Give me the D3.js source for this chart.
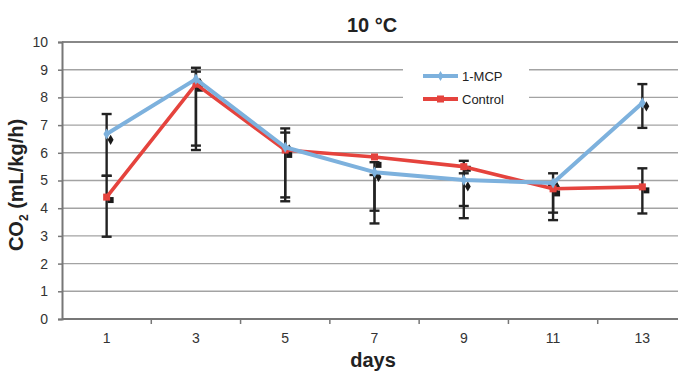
<!DOCTYPE html>
<html>
<head>
<meta charset="utf-8">
<script src="https://cdn.jsdelivr.net/npm/d3@7"></script>
<style>
  body { margin: 0; background: #fff; }
  svg { display: block; font-family: "Liberation Sans", Arial, sans-serif; }
</style>
</head>
<body>
<div id="chart"></div>
<script>
const days = ['1', '3', '5', '7', '9', '11', '13'];
const yTicks = [0, 1, 2, 3, 4, 5, 6, 7, 8, 9, 10];

// line values
const mcp = [6.68, 8.66, 6.2, 5.3, 5.02, 4.91, 7.8];
const control = [4.4, 8.48, 6.1, 5.85, 5.5, 4.7, 4.77];

// black marker values (with error bars)
const mcpMark = [6.54, 8.6, 6.2, 5.2, 4.86, 4.84, 7.75];
const controlMark = [4.33, 8.35, 5.96, 5.6, 5.46, 4.57, 4.68];
const mcpLow = [5.17, 6.26, 4.39, 3.91, 4.08, 3.84, 6.9];
const mcpHigh = [7.4, 9.07, 6.88, 5.2, 5.26, 4.84, 8.48];
const controlLow = [2.97, 6.1, 4.25, 3.45, 3.64, 3.57, 3.81];
const controlHigh = [5.17, 8.93, 6.73, 5.66, 5.71, 5.26, 5.44];

const width = 678;
const height = 371;
const blue = '#7db1dd';
const red = '#e5433d';

const svg = d3.select('#chart')
  .append('svg')
  .attr('width', width)
  .attr('height', height);

const x = d3.scaleBand()
  .domain(days)
  .range([62, 687]);

const y = d3.scaleLinear()
  .domain([0, 10])
  .range([319, 42]);

const cx = d => x(d) + x.bandwidth() / 2;

// gridlines
svg.append('g')
  .selectAll('line')
  .data(yTicks.slice(1))
  .enter()
  .append('line')
  .attr('x1', 62)
  .attr('x2', width)
  .attr('y1', d => y(d))
  .attr('y2', d => y(d))
  .attr('stroke', d => d === 10 ? '#888' : '#a3a3a3')
  .attr('stroke-width', d => d === 10 ? 2.2 : 1.4);

// legend background covers gridlines
svg.append('rect')
  .attr('x', 403)
  .attr('y', 60)
  .attr('width', 126)
  .attr('height', 50)
  .attr('fill', '#fff');

// y axis
const yAxis = d3.axisLeft(y).tickValues(yTicks).tickSize(4).tickPadding(10);
const gy = svg.append('g')
  .attr('transform', 'translate(62,0)')
  .call(yAxis);
gy.select('.domain').attr('stroke', '#777').attr('stroke-width', 2);
gy.selectAll('.tick line').attr('stroke', '#777').attr('stroke-width', 1.5);
gy.selectAll('.tick text')
  .attr('font-size', 14)
  .attr('fill', '#333')
  .attr('font-family', '"Liberation Sans", Arial, sans-serif');

// x axis: ticks on band boundaries
const bounds = days.map(d => x(d)).slice(1);
const gx = svg.append('g');
gx.append('line')
  .attr('x1', 62).attr('x2', width)
  .attr('y1', y(0)).attr('y2', y(0))
  .attr('stroke', '#777').attr('stroke-width', 2.2);
gx.selectAll('.tk')
  .data(bounds)
  .enter()
  .append('line')
  .attr('x1', d => d).attr('x2', d => d)
  .attr('y1', y(0)).attr('y2', y(0) + 5)
  .attr('stroke', '#777').attr('stroke-width', 1.5);
gx.selectAll('text')
  .data(days)
  .enter()
  .append('text')
  .attr('x', d => cx(d))
  .attr('y', 343)
  .attr('text-anchor', 'middle')
  .attr('font-size', 14)
  .attr('fill', '#333')
  .text(d => d);

// black markers
svg.selectAll('.mdiamond')
  .data(mcpMark)
  .enter()
  .append('path')
  .attr('d', d3.symbol(d3.symbolDiamond, 30))
  .attr('transform', (d, i) => `translate(${cx(days[i]) + 4},${y(d) + 2})`)
  .attr('fill', '#1a1a1a');

svg.selectAll('.msquare')
  .data(controlMark)
  .enter()
  .append('rect')
  .attr('x', (d, i) => cx(days[i]) + 1)
  .attr('y', d => y(d) - 2)
  .attr('width', 6)
  .attr('height', 6)
  .attr('fill', '#1a1a1a');

// error bars
function errorBars(low, high) {
  const g = svg.append('g').attr('stroke', '#222').attr('stroke-width', 2.4);
  g.selectAll('.v')
    .data(days)
    .enter()
    .append('line')
    .attr('x1', d => cx(d)).attr('x2', d => cx(d))
    .attr('y1', (d, i) => y(low[i])).attr('y2', (d, i) => y(high[i]));
  [low, high].forEach(arr => {
    g.selectAll(null)
      .data(days)
      .enter()
      .append('line')
      .attr('x1', d => cx(d) - 5).attr('x2', d => cx(d) + 5)
      .attr('y1', (d, i) => y(arr[i])).attr('y2', (d, i) => y(arr[i]));
  });
}
errorBars(controlLow, controlHigh);
errorBars(mcpLow, mcpHigh);

// series lines
const line = d3.line()
  .x((d, i) => cx(days[i]))
  .y(d => y(d));

svg.append('path')
  .datum(control)
  .attr('d', line)
  .attr('fill', 'none')
  .attr('stroke', red)
  .attr('stroke-width', 3.6)
  .attr('stroke-linejoin', 'round');

svg.selectAll('.csq')
  .data(control)
  .enter()
  .append('rect')
  .attr('x', (d, i) => cx(days[i]) - 3.5)
  .attr('y', d => y(d) - 3.5)
  .attr('width', 7)
  .attr('height', 7)
  .attr('fill', red);

svg.append('path')
  .datum(mcp)
  .attr('d', line)
  .attr('fill', 'none')
  .attr('stroke', blue)
  .attr('stroke-width', 4)
  .attr('stroke-linejoin', 'round');

svg.selectAll('.mdi')
  .data(mcp)
  .enter()
  .append('path')
  .attr('d', d3.symbol(d3.symbolDiamond, 36))
  .attr('transform', (d, i) => `translate(${cx(days[i])},${y(d)})`)
  .attr('fill', blue);

// legend
const legend = [
  { name: '1-MCP', color: blue, y: 76, shape: 'diamond' },
  { name: 'Control', color: red, y: 99, shape: 'square' }
];
const lg = svg.append('g');
legend.forEach(item => {
  lg.append('line')
    .attr('x1', 423).attr('x2', 458)
    .attr('y1', item.y).attr('y2', item.y)
    .attr('stroke', item.color)
    .attr('stroke-width', 4);
  if (item.shape === 'square') {
    lg.append('rect')
      .attr('x', 437).attr('y', item.y - 3.5)
      .attr('width', 7).attr('height', 7)
      .attr('fill', item.color);
  } else {
    lg.append('path')
      .attr('d', d3.symbol(d3.symbolDiamond, 30))
      .attr('transform', `translate(440.5,${item.y})`)
      .attr('fill', item.color);
  }
  lg.append('text')
    .attr('x', 462)
    .attr('y', item.y + 5)
    .attr('font-size', 13)
    .attr('fill', '#222')
    .text(item.name);
});

// titles
svg.append('text')
  .attr('x', 372)
  .attr('y', 32)
  .attr('text-anchor', 'middle')
  .attr('font-size', 20)
  .attr('font-weight', 'bold')
  .attr('fill', '#222')
  .text('10 °C');

svg.append('text')
  .attr('x', 373)
  .attr('y', 367)
  .attr('text-anchor', 'middle')
  .attr('font-size', 20)
  .attr('font-weight', 'bold')
  .attr('fill', '#222')
  .text('days');

const yt = svg.append('text')
  .attr('transform', 'translate(23,185) rotate(-90)')
  .attr('text-anchor', 'middle')
  .attr('font-size', 20)
  .attr('font-weight', 'bold')
  .attr('fill', '#222');
yt.append('tspan').text('CO');
yt.append('tspan').attr('font-size', 12).attr('dy', 5).text('2');
yt.append('tspan').attr('dy', -5).text(' (mL/kg/h)');
</script>
</body>
</html>
